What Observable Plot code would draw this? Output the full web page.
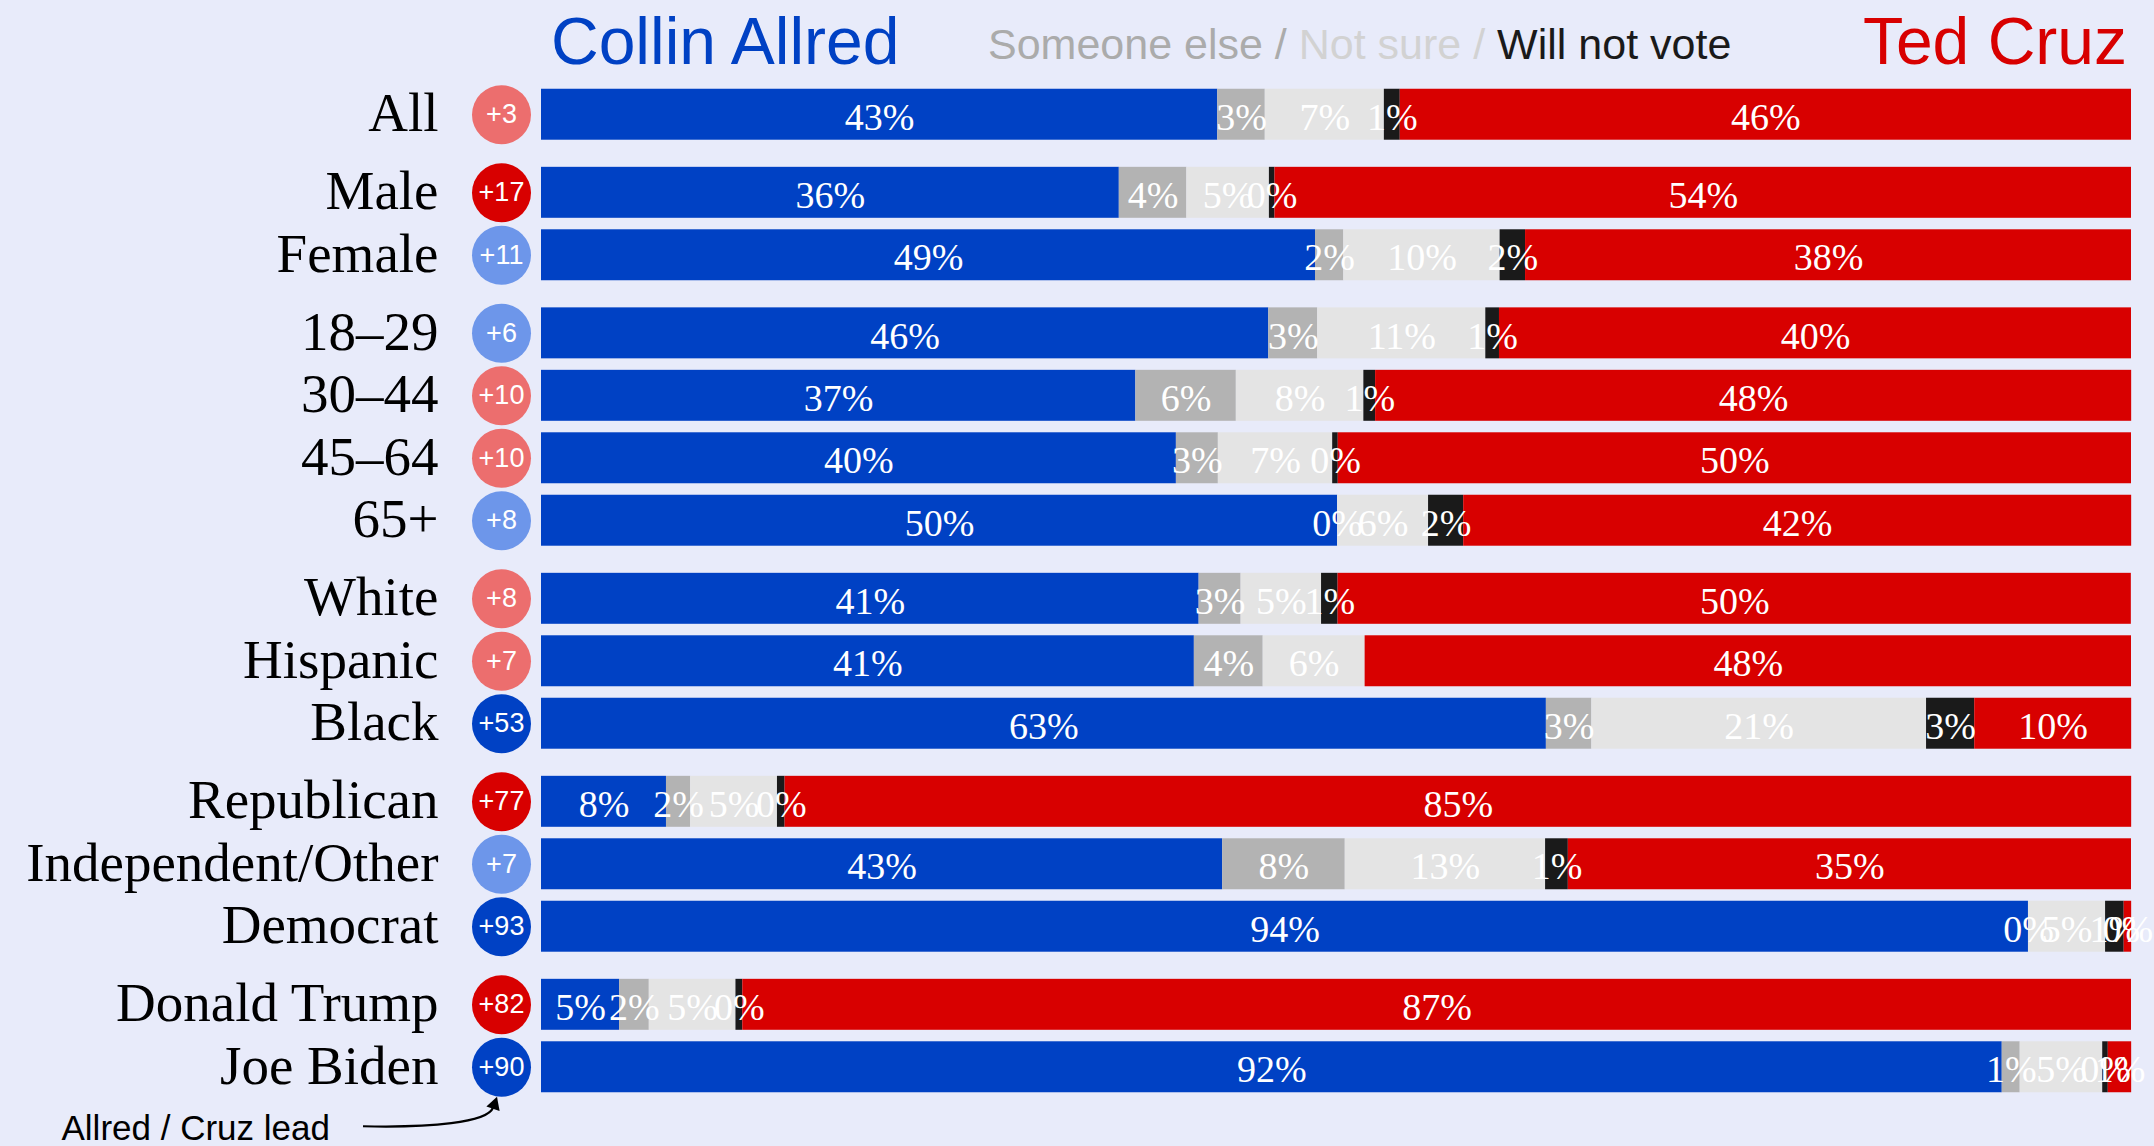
<!DOCTYPE html>
<html>
<head>
<meta charset="utf-8">
<script src="https://cdn.jsdelivr.net/npm/d3@7"></script>
<script src="https://cdn.jsdelivr.net/npm/@observablehq/plot@0.6"></script>
<style>
  html, body { margin: 0; padding: 0; background: #E8EBFA; }
  #wrap { position: relative; width: 2154px; height: 1146px; }
  #header { position: relative; height: 80px; font-family: "Liberation Sans", Arial, sans-serif; }
  #header .h { position: absolute; line-height: 1; white-space: nowrap; }
  #chart svg { display: block; }
</style>
</head>
<body>
<div id="wrap">
  <div id="header"></div>
  <div id="chart"></div>
</div>
<script>
// ---------------- data ----------------
const rows = ["All", "Male", "Female", "18–29", "30–44", "45–64", "65+",
  "White", "Hispanic", "Black", "Republican", "Independent/Other", "Democrat",
  "Donald Trump", "Joe Biden"];
const section = [0, 1, 1, 2, 2, 2, 2, 3, 3, 3, 4, 4, 4, 5, 5];

const answers = ["Collin Allred", "Someone else", "Not sure", "Will not vote", "Ted Cruz"];
const answerColors = ["#0041C4", "#B3B3B3", "#E4E4E4", "#1A1A1A", "#D80000"];

const allred      = [42.53, 36.34, 48.68, 45.74, 37.38, 39.93, 50.07, 41.36, 41.06, 63.2, 7.86, 42.84, 93.52, 4.91, 91.87];
const someoneElse = [2.99, 4.25, 1.78, 3.08, 6.32, 2.64, 0, 2.64, 4.33, 2.86, 1.52, 7.71, 0, 1.87, 1.13];
const notSure     = [7.49, 5.19, 9.83, 10.57, 8.02, 7.19, 5.72, 5.06, 6.41, 21.05, 5.46, 12.6, 4.85, 5.45, 5.19];
const willNotVote = [1.0, 0.35, 1.6, 0.86, 0.74, 0.35, 2.21, 1.04, null, 3.03, 0.48, 1.43, 1.17, 0.43, 0.35];
const cruz        = [45.99, 53.87, 38.11, 39.75, 47.55, 49.89, 42.01, 49.89, 48.2, 9.87, 84.69, 35.42, 0.47, 87.34, 1.47];
const lead        = [3, 17, 11, 6, 10, 10, 8, 8, 7, 53, 77, 7, 93, 82, 90];

const leadColors = {Cruz: ["#EC6E6E", "#D80000"], Allred: ["#6D96EA", "#0041C4"]};
const annotation = "Allred / Cruz lead";

// ---------------- header ----------------
const header = document.getElementById("header");
function span(parent, text, style) {
  const s = document.createElement("span");
  s.textContent = text;
  Object.assign(s.style, style);
  parent.appendChild(s);
  return s;
}
const hL = span(header, answers[0], {left: "551px", top: "8px", fontSize: "66px", color: answerColors[0]});
hL.className = "h";
const hM = document.createElement("span");
hM.className = "h";
Object.assign(hM.style, {left: "988px", top: "23px", fontSize: "43px"});
header.appendChild(hM);
span(hM, answers[1] + " / ", {color: "#ABABAB"});
span(hM, answers[2] + " / ", {color: "#D2D2D2"});
span(hM, answers[3], {color: "#1A1A1A"});
const hR = span(header, answers[4], {right: "27px", top: "8px", fontSize: "66px", color: answerColors[4]});
hR.className = "h";

// ---------------- tables ----------------
const series = [allred, someoneElse, notSure, willNotVote, cruz];
const table = [];
const rowTable = rows.map((name, i) => {
  const pos = i + 0.25 * section[i];
  series.forEach((vals, k) => {
    if (vals[i] == null) return;
    table.push({row: name, pos, answer: answers[k], color: answerColors[k], value: vals[i]});
  });
  const leader = cruz[i] > allred[i] ? "Cruz" : "Allred";
  return {row: name, pos, lead: lead[i], leader};
});
const half = 0.408;
const lastRow = rowTable[rowTable.length - 1];

// ---------------- chart ----------------
const chart = Plot.plot({
  width: 2154,
  height: 1066,
  marginLeft: 541,
  marginRight: 23,
  marginTop: 3,
  marginBottom: 48,
  x: {domain: [0, 100], axis: null},
  y: {domain: [-0.5, 15.75], reverse: true, axis: null},
  color: {type: "identity"},
  style: {background: "transparent", overflow: "visible", fontFamily: "Liberation Sans, Arial, sans-serif"},
  marks: [
    Plot.rect(table, Plot.stackX({
      x: "value",
      y1: d => d.pos - half,
      y2: d => d.pos + half,
      fill: "color"
    })),
    Plot.text(table, Plot.stackX({
      x: "value",
      y: "pos",
      text: d => `${Math.round(d.value)}%`,
      fill: "white",
      fontFamily: "Liberation Serif, serif",
      fontSize: 38,
      dy: 3
    })),
    Plot.text(rowTable, {
      y: "pos",
      text: "row",
      frameAnchor: "left",
      textAnchor: "end",
      dx: -103,
      dy: -1,
      fontSize: 55,
      fontFamily: "Liberation Serif, serif",
      fill: "black"
    }),
    Plot.dot(rowTable, {
      y: "pos",
      frameAnchor: "left",
      dx: -40,
      r: 29.5,
      stroke: null,
      fill: d => leadColors[d.leader][d.lead >= 15 ? 1 : 0]
    }),
    Plot.text(rowTable, {
      y: "pos",
      frameAnchor: "left",
      textAnchor: "middle",
      dx: -40,
      text: d => "+" + d.lead,
      fill: "white",
      fontSize: 27,
      fontFamily: "Liberation Sans, Arial, sans-serif"
    }),
    Plot.text([lastRow], {
      y: "pos",
      frameAnchor: "left",
      dx: -480,
      dy: 62,
      textAnchor: "start",
      text: () => annotation,
      fill: "black",
      fontSize: 35,
      fontFamily: "Liberation Sans, Arial, sans-serif"
    }),
    (index, scales, values, dimensions) => {
      const cx = dimensions.marginLeft - 40;
      const cy = scales.y(lastRow.pos);
      const g = d3.create("svg:g");
      g.append("path")
        .attr("d", `M${cx - 138},${cy + 59.5} C${cx - 70},${cy + 61} ${cx - 14},${cy + 56} ${cx - 8},${cy + 41}`)
        .attr("fill", "none")
        .attr("stroke", "black")
        .attr("stroke-width", 2.2);
      g.append("path")
        .attr("d", `M${cx - 4},${cy + 30} L${cx - 14.6},${cy + 39.8} L${cx - 1.4},${cy + 44.2} Z`)
        .attr("fill", "black");
      return g.node();
    }
  ]
});
document.getElementById("chart").appendChild(chart);
</script>
</body>
</html>
